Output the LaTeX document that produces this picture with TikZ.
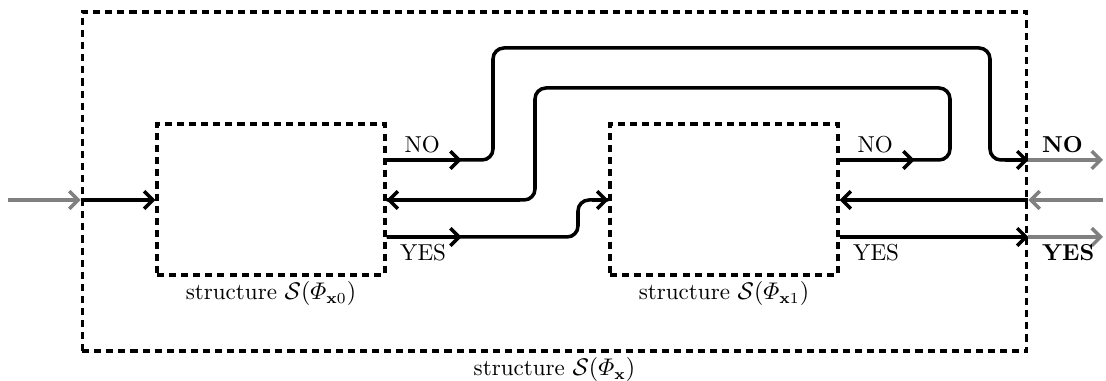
\documentclass[tikz,border=0pt]{standalone}
\usepackage{amsmath, amssymb}
\usetikzlibrary{arrows.meta}
\usetikzlibrary{calc}
\usetikzlibrary{positioning}

\begin{document}
\begin{tikzpicture}[
		x=0.016cm, y=-0.016cm,
		dbox/.style={draw, line width=1.5pt, dash pattern=on 3.2pt off 2.3pt, inner sep=0pt},
		flow/.style={line width=1.6pt, rounded corners=5pt},
		ext/.style={flow, gray},
		tip/.style={-{Straight Barb[length=4pt, width=8pt]}},
		lbl/.style={inner sep=1pt, font=\fontsize{10.5pt}{12pt}\selectfont}
	]
	\useasboundingbox (0,0) rectangle (1106,381);

	% boxes
	\node[dbox, minimum width=15.12cm, minimum height=5.424cm] (sx) at (554.5,181.5) {};
	\node[dbox, minimum width=3.648cm, minimum height=2.416cm] (sx0) at (271,199.5) {};
	\node[dbox, minimum width=3.648cm, minimum height=2.416cm] (sx1) at (724,199.5) {};
	\node[lbl, below=1pt of sx0] {structure $\mathcal{S}(\varPhi_{\mathbf{x}0})$};
	\node[lbl, below=1pt of sx1] {structure $\mathcal{S}(\varPhi_{\mathbf{x}1})$};
	\node[lbl, below=1pt of sx] {structure $\mathcal{S}(\varPhi_{\mathbf{x}})$};

	% ports
	\coordinate (in) at (8,200);
	\coordinate (outno) at (1103,160);
	\coordinate (back) at (1103,200);
	\coordinate (outyes) at (1103,237);
	\coordinate (no0) at (sx0.east |- 0,160);
	\coordinate (yes0) at (sx0.east |- 0,237);
	\coordinate (no1) at (sx1.east |- 0,160);
	\coordinate (yes1) at (sx1.east |- 0,237);

	% input
	\draw[ext, tip] (in) -- (sx.west |- in);
	\draw[flow, tip] (sx.west |- in) -- (sx0.west |- in);

	% NO of first block
	\draw[flow] (no0) -- (493,160) -- (493,48) -- (990,48) -- (990,160) -- (sx.east |- no0);
	\draw[flow, tip] (1005,160) -- (sx.east |- no0);
	\draw[flow, tip] (no0) -- ++(75,0);
	\node[lbl, above right=2pt and 7pt of no0] {NO};

	% YES of first block
	\draw[flow] (yes0) -- (578,237) -- (578,200) -- (sx1.west |- 0,200);
	\draw[flow, tip] (592,200) -- (sx1.west |- 0,200);
	\draw[flow, tip] (yes0) -- ++(75,0);
	\node[lbl, below right=2pt and 5pt of yes0] {YES};

	% NO of second block back to first
	\draw[flow] (no1) -- (950,160) -- (950,88) -- (535,88) -- (535,200) -- (sx0.east |- 0,200);
	\draw[flow, tip] (520,200) -- (sx0.east |- 0,200);
	\draw[flow, tip] (no1) -- ++(75,0);
	\node[lbl, above right=2pt and 7pt of no1] {NO};

	% YES of second block
	\draw[flow, tip] (yes1) -- (sx.east |- yes1);
	\node[lbl, below right=2pt and 5pt of yes1] {YES};

	% back input
	\draw[ext, tip] (back) -- (sx.east |- back);
	\draw[flow, tip] (sx.east |- back) -- (sx1.east |- back);

	% outputs
	\draw[ext, tip] (sx.east |- outno) -- (outno);
	\draw[ext, tip] (sx.east |- outyes) -- (outyes);
	\node[lbl, above right=2pt and 5pt of sx.east |- outno] {\textbf{NO}};
	\node[lbl, below right=2pt and 5pt of sx.east |- outyes] {\textbf{YES}};
\end{tikzpicture}
\end{document}
